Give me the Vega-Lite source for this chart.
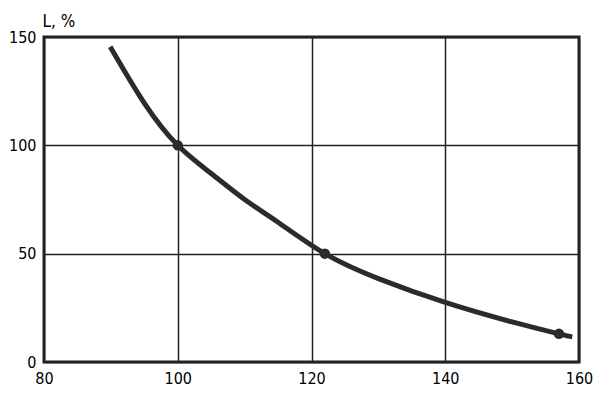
{
  "$schema": "https://vega.github.io/schema/vega-lite/v6.json",
  "autosize": {"type": "none"},
  "width": 535,
  "height": 325,
  "padding": {"left": 44, "top": 37, "right": 22, "bottom": 34},
  "background": "white",
  "config": {
    "view": {"stroke": "#222", "strokeWidth": 3},
    "axis": {
      "labelFont": "DejaVu Sans Condensed, Liberation Sans, sans-serif",
      "labelFontSize": 16,
      "labelColor": "#000",
      "gridColor": "#222",
      "gridWidth": 1.5,
      "gridOpacity": 1,
      "ticks": false,
      "domain": false,
      "titleFont": "DejaVu Sans Condensed, Liberation Sans, sans-serif",
      "titleFontSize": 17,
      "titleFontWeight": "normal",
      "titleColor": "#000"
    }
  },
  "datasets": {
    "curve": [
      {"x": 89.9, "y": 145.5},
      {"x": 95, "y": 119.5},
      {"x": 100, "y": 100},
      {"x": 105, "y": 87},
      {"x": 110, "y": 75},
      {"x": 115, "y": 64.5},
      {"x": 122, "y": 50},
      {"x": 130, "y": 38.5},
      {"x": 140, "y": 27.5},
      {"x": 150, "y": 18.5},
      {"x": 157, "y": 13},
      {"x": 159, "y": 11.6}
    ],
    "pts": [
      {"x": 100, "y": 100},
      {"x": 122, "y": 50},
      {"x": 157, "y": 13}
    ]
  },
  "layer": [
    {
      "data": {"name": "curve"},
      "mark": {"type": "line", "color": "#2b2b2b", "strokeWidth": 5, "interpolate": "natural"},
      "encoding": {
        "x": {"field": "x", "type": "quantitative", "scale": {"domain": [80, 160], "nice": false},
              "axis": {"values": [80, 100, 120, 140, 160], "title": null, "labelPadding": 8, "labelFlush": false}},
        "y": {"field": "y", "type": "quantitative", "scale": {"domain": [0, 150], "nice": false},
              "axis": {"values": [0, 50, 100, 150], "title": "L, %", "titleAngle": 0, "titleAlign": "left",
                       "titleX": -2, "titleY": -7, "labelPadding": 8, "labelFlush": false}}
      }
    },
    {
      "data": {"name": "pts"},
      "mark": {"type": "point", "filled": true, "color": "#2b2b2b", "size": 110, "opacity": 1},
      "encoding": {
        "x": {"field": "x", "type": "quantitative"},
        "y": {"field": "y", "type": "quantitative"}
      }
    }
  ]
}
